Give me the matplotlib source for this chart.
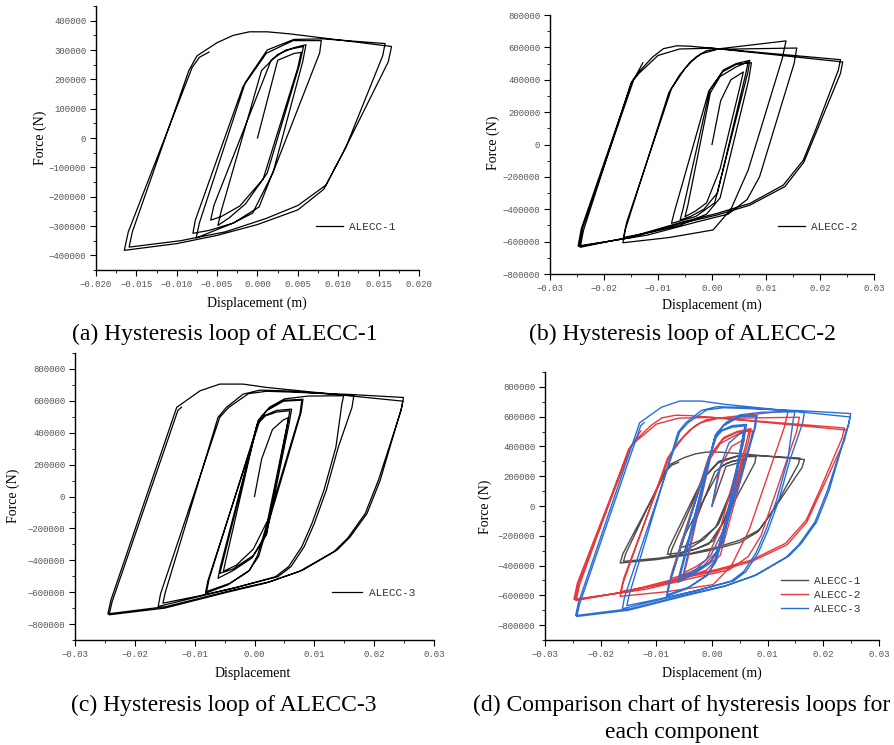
import matplotlib
matplotlib.use("Agg")
import matplotlib.pyplot as plt
from matplotlib.ticker import MultipleLocator, FuncFormatter

# ---------------- data (displacement in m, force in N) ----------------
disp_alecc1 = [
    0.0, 0.0025, 0.0045, 0.0054,
    0.0050, 0.0007, -0.0022, -0.0045, -0.0058,
    -0.0054, 0.0017, 0.0035, 0.0057,
    0.0052, 0.0012, -0.0015, -0.0035, -0.0049,
    -0.0045, 0.0005, 0.0025, 0.0045, 0.0060,
    0.0056, 0.0020, 0.0002, -0.0030, -0.0060, -0.0080,
    -0.0077, -0.0018, 0.0011, 0.0044, 0.0079,
    0.0077, 0.0019, -0.0006, -0.0030, -0.0076,
    -0.0072, -0.0015, 0.0012, 0.0045, 0.0081,
    0.0158,
    0.0155, 0.0110, 0.0085, 0.0050, 0.0010, -0.0040, -0.0095, -0.0159,
    -0.0155, -0.0085, -0.0075, -0.0050, -0.0030, -0.0010, 0.0012, 0.0040, 0.0166,
    0.0162, 0.0106, 0.0082, 0.0050, 0.0000, -0.0050, -0.0100, -0.0165,
    -0.0160, -0.0081, -0.0072, -0.0060,
]
force_alecc1 = [
    0, 265000, 288000, 292000,
    240000, -140000, -232000, -268000, -280000,
    -230000, 266000, 300000, 312000,
    250000, -120000, -225000, -272000, -298000,
    -250000, 230000, 285000, 308000, 318000,
    260000, -110000, -235000, -290000, -315000, -325000,
    -280000, 175000, 289000, 332000, 332000,
    290000, -119000, -256000, -290000, -341000,
    -290000, 190000, 300000, 336000, 338000,
    322000,
    280000, -28000, -160000, -230000, -275000, -320000, -350000, -372000,
    -320000, 230000, 280000, 325000, 350000, 362000, 362000, 355000, 312000,
    260000, -50000, -175000, -245000, -295000, -332000, -360000, -383000,
    -320000, 240000, 275000, 293000,
]

disp_alecc2 = [
    0.0, 0.0016, 0.0035, 0.0058,
    0.0052, 0.0015, -0.0010, -0.0030, -0.0050,
    -0.0045, -0.0003, 0.0015, 0.0045, 0.0067,
    0.0062, 0.0010, -0.0015, -0.0040, -0.0059,
    -0.0053, -0.0004, 0.0021, 0.0045, 0.0070,
    0.0066, 0.0005, -0.0030, -0.0075,
    -0.0070, -0.0006, 0.0020, 0.0045, 0.0073,
    0.0068, 0.0015, -0.0010, -0.0060, -0.0110, -0.0164,
    -0.0158, -0.0075, -0.0050, -0.0030, -0.0010, 0.0015, 0.0137,
    0.0130, 0.0067, 0.0035, 0.0002, -0.0080, -0.0165,
    -0.0160, -0.0080, -0.0060, -0.0040, -0.0020, 0.0010, 0.0157,
    0.0152, 0.0088, 0.0065, 0.0030, -0.0030, -0.0120, -0.0248,
    -0.0242, -0.0147, -0.0135, -0.0110, -0.0090, -0.0065, -0.0040, 0.0238,
    0.0234, 0.0194, 0.0169, 0.0132, 0.0070, 0.0009, -0.0053, -0.0150, -0.0244,
    -0.0238, -0.0150, -0.0135, -0.0100, -0.0060, 0.0000, 0.0242,
    0.0238, 0.0196, 0.0170, 0.0135, 0.0070, 0.0010, -0.0060, -0.0150, -0.0246,
    -0.0240, -0.0145, -0.0128,
]
force_alecc2 = [
    0, 270000, 400000, 448000,
    360000, -150000, -360000, -410000, -446000,
    -380000, 320000, 420000, 480000, 511000,
    430000, -300000, -400000, -445000, -466000,
    -390000, 336000, 460000, 500000, 520000,
    440000, -360000, -445000, -487000,
    -420000, 330000, 450000, 495000, 505000,
    400000, -330000, -430000, -500000, -540000, -574000,
    -480000, 345000, 470000, 540000, 580000, 592000, 640000,
    530000, -158000, -400000, -528000, -575000, -607000,
    -520000, 320000, 430000, 510000, 560000, 588000, 596000,
    500000, -200000, -340000, -430000, -480000, -560000, -627000,
    -520000, 397000, 450000, 540000, 592000, 610000, 607000, 524000,
    460000, 109000, -97000, -251000, -364000, -426000, -477000, -570000, -635000,
    -530000, 380000, 440000, 550000, 590000, 595000, 510000,
    440000, 100000, -110000, -260000, -375000, -435000, -490000, -575000, -630000,
    -520000, 400000, 505000,
]

disp_alecc3 = [
    0.0, 0.0012, 0.0030, 0.0048, 0.0057,
    0.0053, 0.0022, -0.0002, -0.0030, -0.0052,
    -0.0048, 0.0004, 0.0018, 0.0037, 0.0059,
    0.0055, 0.0020, -0.0002, -0.0036, -0.0058,
    -0.0053, 0.0006, 0.0016, 0.0037, 0.0062,
    0.0058, 0.0020, -0.0004, -0.0036, -0.0061,
    -0.0057, 0.0006, 0.0020, 0.0048, 0.0079,
    0.0076, 0.0005, -0.0008, -0.0041, -0.0080,
    -0.0076, 0.0008, 0.0022, 0.0050, 0.0081,
    0.0078, 0.0007, -0.0010, -0.0045, -0.0082,
    -0.0078, 0.0010, 0.0025, 0.0050, 0.0090, 0.0149,
    0.0146, 0.0136, 0.0116, 0.0096, 0.0079, 0.0057, 0.0035, -0.0030, -0.0095, -0.0153,
    -0.0149, -0.0061, -0.0047, -0.0019, 0.0009, 0.0048, 0.0166,
    0.0163, 0.0140, 0.0120, 0.0100, 0.0083, 0.0061, 0.0039, -0.0025, -0.0090, -0.0161,
    -0.0157, -0.0058, -0.0043, -0.0010, 0.0020, 0.0060, 0.0160, 0.0249,
    0.0246, 0.0210, 0.0188, 0.0160, 0.0138, 0.0081, 0.0026, -0.0040, -0.0147, -0.0245,
    -0.0240, -0.0130, -0.0091, -0.0058, -0.0019, 0.0020, 0.0248,
    0.0245, 0.0207, 0.0185, 0.0156, 0.0133, 0.0075, 0.0020, -0.0045, -0.0150, -0.0243,
    -0.0238, -0.0128, -0.0122,
]
force_alecc3 = [
    0, 236000, 420000, 480000, 495000,
    420000, -150000, -330000, -430000, -470000,
    -400000, 450000, 505000, 530000, 538000,
    450000, -232000, -370000, -455000, -482000,
    -410000, 470000, 507000, 540000, 548000,
    460000, -240000, -385000, -465000, -513000,
    -440000, 476000, 538000, 598000, 604000,
    520000, -370000, -461000, -544000, -596000,
    -520000, 485000, 545000, 603000, 610000,
    530000, -375000, -470000, -555000, -607000,
    -530000, 490000, 560000, 612000, 630000, 632000,
    580000, 309000, 39000, -169000, -315000, -440000, -503000, -570000, -625000, -669000,
    -600000, 496000, 559000, 642000, 667000, 663000, 632000,
    560000, 309000, 39000, -169000, -315000, -440000, -503000, -565000, -625000, -690000,
    -610000, 497000, 559000, 645000, 660000, 655000, 640000, 621000,
    560000, 101000, -107000, -253000, -336000, -461000, -534000, -590000, -690000, -736000,
    -650000, 559000, 663000, 705000, 705000, 684000, 598000,
    540000, 101000, -107000, -260000, -345000, -470000, -542000, -600000, -700000, -742000,
    -660000, 540000, 560000,
]

labels = ["ALECC-1", "ALECC-2", "ALECC-3"]
captions = [
    "(a) Hysteresis loop of ALECC-1",
    "(b) Hysteresis loop of ALECC-2",
    "(c) Hysteresis loop of ALECC-3",
    "(d) Comparison chart of hysteresis loops for",
    "each component",
]
compare_colors = ["#4d4d4d", "#e8393d", "#2a6fd6"]

# ---------------- styling ----------------
SERIF = ["Liberation Serif", "DejaVu Serif"]
MONO = ["Liberation Mono", "DejaVu Sans Mono"]
plt.rcParams["font.family"] = MONO
plt.rcParams["axes.unicode_minus"] = True

W, H = 895, 745
fig = plt.figure(figsize=(W / 100, H / 100), dpi=100)


def px_axes(l, t, r, b):
    return fig.add_axes([l / W, 1 - b / H, (r - l) / W, (b - t) / H])


def style(ax, xlim, ylim, xmaj, ymaj, xdec):
    ax.set_xlim(*xlim)
    ax.set_ylim(*ylim)
    for s in ["top", "right"]:
        ax.spines[s].set_visible(False)
    for s in ["left", "bottom"]:
        ax.spines[s].set_linewidth(1.0)
    ax.xaxis.set_major_locator(MultipleLocator(xmaj))
    ax.xaxis.set_minor_locator(MultipleLocator(xmaj / 2))
    ax.yaxis.set_major_locator(MultipleLocator(ymaj))
    ax.yaxis.set_minor_locator(MultipleLocator(ymaj / 2))
    ax.xaxis.set_major_formatter(
        FuncFormatter(lambda v, p: (f"{v:.{xdec}f}").replace("-", "\u2212")))
    ax.yaxis.set_major_formatter(
        FuncFormatter(lambda v, p: f"{int(round(v))}".replace("-", "\u2212")))
    ax.tick_params(which="major", direction="out", length=4, width=0.8,
                   labelsize=6.5, labelcolor="#555555", pad=3)
    ax.tick_params(which="minor", direction="out", length=2, width=0.6)


def add_legend(ax, x, y, hl=2.4):
    ax.legend(loc="center left", bbox_to_anchor=(x, y), frameon=False,
              borderpad=0, borderaxespad=0, handlelength=hl, handletextpad=0.6,
              labelspacing=0.35, prop={"family": MONO, "size": 8},
              labelcolor="#333333")


def flabel(x, y, text, rot=0):
    fig.text(x / W, 1 - y / H, text, ha="center", va="center", rotation=rot,
             family=SERIF, fontsize=10)


# (a)
ax_a = px_axes(96, 6, 419, 270)
ax_a.plot(disp_alecc1, force_alecc1, color="black", lw=0.9, label=labels[0])
style(ax_a, (-0.02, 0.02), (-450000, 450000), 0.005, 100000, 3)
add_legend(ax_a, 0.681, 0.163)
flabel(40, 138, "Force (N)", 90)
flabel(257, 303, "Displacement (m)")

# (b)
ax_b = px_axes(550, 15, 874, 274)
ax_b.plot(disp_alecc2, force_alecc2, color="black", lw=0.9, label=labels[1])
style(ax_b, (-0.03, 0.03), (-800000, 800000), 0.01, 200000, 2)
add_legend(ax_b, 0.704, 0.181)
flabel(493, 143, "Force (N)", 90)
flabel(712, 305, "Displacement (m)")

# (c)
ax_c = px_axes(75, 353, 434, 640)
ax_c.plot(disp_alecc3, force_alecc3, color="black", lw=0.9, label=labels[2])
style(ax_c, (-0.03, 0.03), (-900000, 900000), 0.01, 200000, 2)
add_legend(ax_c, 0.716, 0.164, hl=2.7)
flabel(13, 496, "Force (N)", 90)
flabel(253, 674, "Displacement")

# (d)
ax_d = px_axes(545, 372, 879, 640)
for dx, fy, lab, col in zip([disp_alecc1, disp_alecc2, disp_alecc3],
                            [force_alecc1, force_alecc2, force_alecc3],
                            labels, compare_colors):
    ax_d.plot(dx, fy, color=col, lw=1.0, label=lab)
style(ax_d, (-0.03, 0.03), (-900000, 900000), 0.01, 200000, 2)
add_legend(ax_d, 0.707, 0.168)
flabel(485, 507, "Force (N)", 90)
flabel(712, 673, "Displacement (m)")

# captions
cap_pos = [(225, 340), (682, 340), (224, 711), (682, 711), (682, 738)]
for (cx, cy), cap in zip(cap_pos, captions):
    fig.text(cx / W, 1 - cy / H, cap, ha="center", va="baseline",
             family=SERIF, fontsize=17)

fig.savefig("out.png", dpi=100)
